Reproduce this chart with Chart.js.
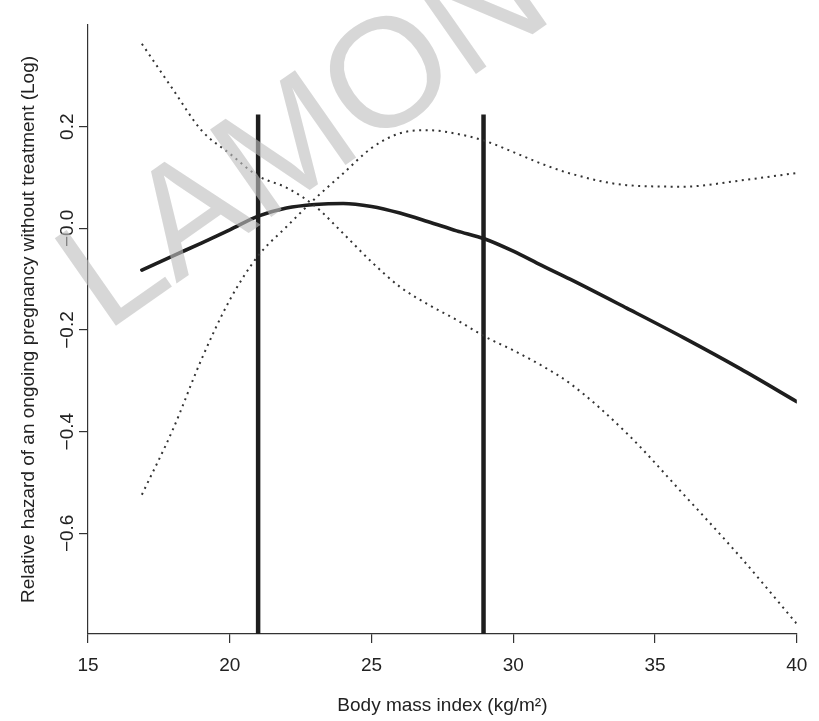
<!DOCTYPE html>
<html>
<head>
<meta charset="utf-8">
<script src="https://cdn.jsdelivr.net/npm/chart.js@4.4.1/dist/chart.umd.min.js"></script>
<style>
  html, body { margin: 0; padding: 0; background: #fff; }
  #wrap { width: 819px; height: 721px; }
</style>
</head>
<body>
<div id="wrap"><canvas id="bmiChart" width="819" height="721"></canvas></div>
<script>
// values
const bmi = [16.9, 18, 19, 20, 21, 22, 23, 24, 25, 26, 27, 28, 29, 30, 31, 32, 34, 36, 38, 40];
const hazardFit = [-0.082, -0.054, -0.029, -0.003, 0.024, 0.040, 0.047, 0.049, 0.043, 0.030, 0.013, -0.005, -0.021, -0.045, -0.073, -0.100, -0.157, -0.215, -0.276, -0.341];
const bandRising = [-0.524, -0.395, -0.258, -0.141, -0.054, 0.003, 0.058, 0.108, 0.158, 0.187, 0.193, 0.186, 0.172, 0.150, 0.127, 0.108, 0.085, 0.082, 0.094, 0.109];
const bandFalling = [0.363, 0.273, 0.193, 0.147, 0.103, 0.080, 0.044, -0.010, -0.066, -0.115, -0.150, -0.180, -0.213, -0.240, -0.270, -0.305, -0.403, -0.523, -0.646, -0.778];
const cutoffs = [21, 28.95];
const cutoffTop = 0.224;

const xTicks = [15, 20, 25, 30, 35, 40];
const yTicks = [-0.6, -0.4, -0.2, 0, 0.2];
const yTickLabels = ['\u22120.6', '\u22120.4', '\u22120.2', '\u22120.0', '0.2'];

const xMin = 15, xMax = 40;
const yMin = -0.798, yMax = 0.40;

const ink = '#222';
const fontFamily = '"Liberation Sans", Arial, Helvetica, sans-serif';

function points(ys) {
  return bmi.map(function (x, i) { return { x: x, y: ys[i] }; });
}

const dotted = {
  borderColor: '#333',
  borderWidth: 2,
  borderDash: [2, 4.5],
  pointRadius: 0,
  cubicInterpolationMode: 'monotone',
  fill: false
};

const datasets = [
  Object.assign({ label: 'bandRising', data: points(bandRising) }, dotted),
  Object.assign({ label: 'bandFalling', data: points(bandFalling) }, dotted),
  {
    label: 'fit',
    data: points(hazardFit),
    borderColor: '#1e1e1e',
    borderWidth: 3.6,
    borderCapStyle: 'round',
    pointRadius: 0,
    cubicInterpolationMode: 'monotone',
    fill: false
  }
];

cutoffs.forEach(function (c) {
  datasets.push({
    label: 'cutoff ' + c,
    data: [{ x: c, y: yMin }, { x: c, y: cutoffTop }],
    borderColor: '#1e1e1e',
    borderWidth: 4.5,
    pointRadius: 0,
    fill: false
  });
});

// grey watermark lettering laid over the plot
const watermark = {
  id: 'watermark',
  afterDraw(chart) {
    const ctx = chart.ctx;
    const size = 155;
    ctx.save();
    ctx.font = size + 'px ' + fontFamily;
    ctx.fillStyle = 'rgba(190,190,190,0.62)';
    ctx.textBaseline = 'alphabetic';
    ctx.translate(384, 70); // centre of the "O"
    ctx.rotate(-35 * Math.PI / 180);
    const lead = ctx.measureText('LAM').width + ctx.measureText('O').width / 2;
    ctx.fillText('LAMON', -lead, 0.36 * size);
    ctx.restore();
  }
};

const axisGrid = {
  display: true,
  drawOnChartArea: false,
  drawTicks: true,
  tickLength: 9,
  color: '#333',
  lineWidth: 1.2
};
const axisBorder = { display: true, color: '#333', width: 1.2 };

new Chart(document.getElementById('bmiChart'), {
  type: 'line',
  data: { datasets: datasets },
  plugins: [watermark],
  options: {
    responsive: false,
    animation: false,
    layout: { padding: { top: 25, right: 21, left: 0, bottom: 0 } },
    plugins: {
      legend: { display: false },
      tooltip: { enabled: false }
    },
    scales: {
      x: {
        type: 'linear',
        min: xMin,
        max: xMax,
        afterBuildTicks: function (scale) {
          scale.ticks = xTicks.map(function (v) { return { value: v }; });
        },
        afterFit: function (scale) { scale.height = 87; },
        grid: axisGrid,
        border: axisBorder,
        ticks: {
          color: ink,
          font: { size: 19, family: fontFamily },
          padding: 11.6,
          maxRotation: 0,
          minRotation: 0,
          autoSkip: false
        },
        title: {
          display: true,
          text: 'Body mass index (kg/m\u00b2)',
          color: ink,
          font: { size: 19, family: fontFamily },
          padding: { top: 0, bottom: 4 }
        }
      },
      y: {
        type: 'linear',
        min: yMin,
        max: yMax,
        afterBuildTicks: function (scale) {
          scale.ticks = yTicks.map(function (v) { return { value: v }; });
        },
        afterFit: function (scale) { scale.width = 88; },
        grid: axisGrid,
        border: axisBorder,
        ticks: {
          color: ink,
          font: { size: 19, family: fontFamily },
          padding: -7.75,
          minRotation: 90,
          maxRotation: 90,
          crossAlign: 'center',
          autoSkip: false,
          callback: function (value) {
            return yTickLabels[yTicks.indexOf(value)];
          }
        },
        title: {
          display: true,
          text: 'Relative hazard of an ongoing pregnancy without treatment (Log)',
          color: ink,
          font: { size: 19, family: fontFamily },
          padding: { top: 17, bottom: 0 }
        }
      }
    }
  }
});
</script>
</body>
</html>
